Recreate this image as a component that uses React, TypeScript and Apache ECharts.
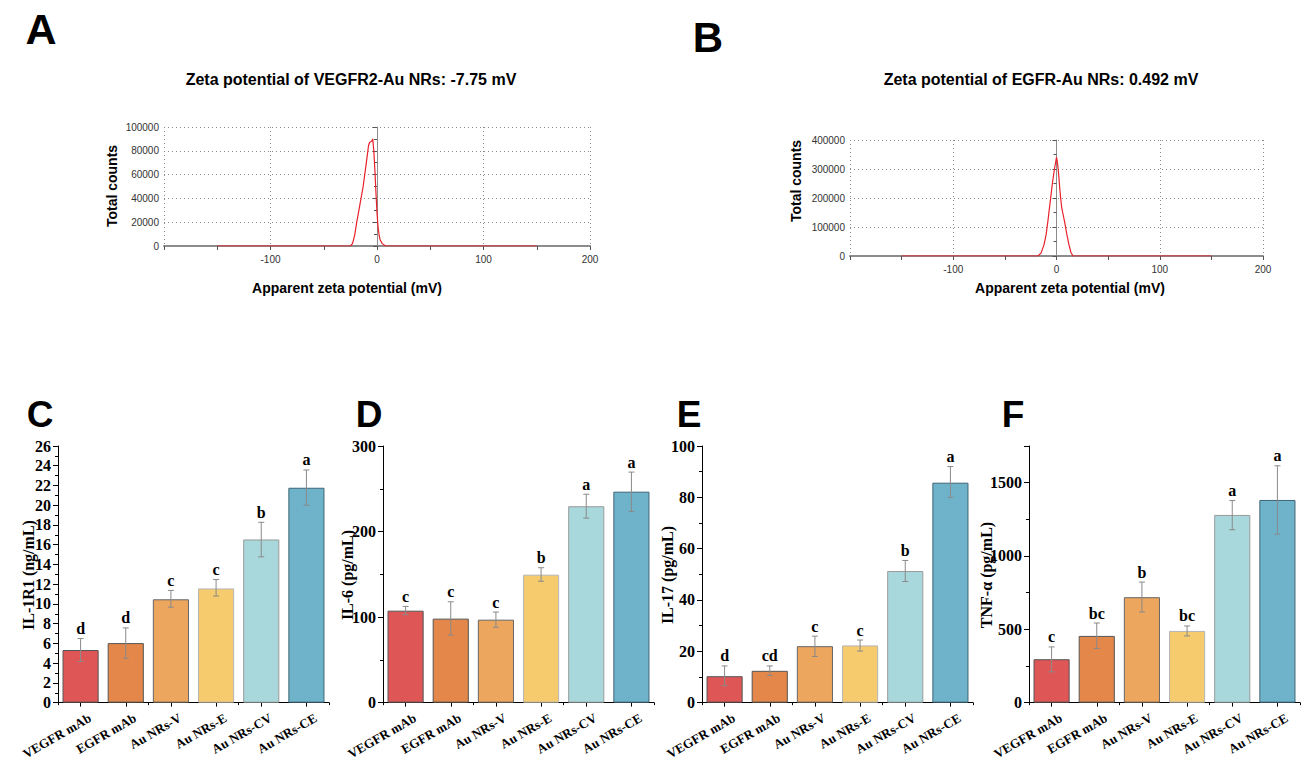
import React, { useEffect, useRef } from 'react';
import * as echarts from 'echarts';

// ---------- data ----------
const categories = ['VEGFR mAb', 'EGFR mAb', 'Au NRs-V', 'Au NRs-E', 'Au NRs-CV', 'Au NRs-CE'];

const il1r1Mean = [5.33, 6.03, 10.47, 11.57, 16.53, 21.77];
const il1r1Low = [4.17, 4.5, 9.67, 10.8, 14.77, 20.0];
const il1r1High = [6.5, 7.57, 11.37, 12.47, 18.27, 23.57];
const il1r1Letters = ['d', 'd', 'c', 'c', 'b', 'a'];

const il6Mean = [107.5, 98.2, 97, 149.6, 229.6, 246.6];
const il6Low = [102.8, 78.9, 88.1, 141.9, 215.7, 223.5];
const il6High = [112.5, 117.9, 105.9, 157.7, 243.6, 269.5];
const il6Letters = ['c', 'c', 'c', 'b', 'a', 'a'];

const il17Mean = [10.3, 12.4, 22.0, 22.3, 51.3, 85.7];
const il17Low = [6.6, 10.6, 18.0, 20.1, 47.2, 80.0];
const il17High = [14.3, 14.3, 25.9, 24.4, 55.4, 92.0];
const il17Letters = ['d', 'cd', 'c', 'c', 'b', 'a'];

const tnfMean = [296, 455, 719, 489, 1280, 1382];
const tnfLow = [210, 369, 618, 455, 1179, 1149];
const tnfHigh = [380, 543, 822, 523, 1378, 1615];
const tnfLetters = ['c', 'bc', 'b', 'bc', 'a', 'a'];

const vegfrZeta: number[][] = [
  [-150, 0], [-25, 0], [-23, 2000], [-21, 9000], [-19, 20000], [-16, 35000], [-13, 50000],
  [-10, 70000], [-8, 84000], [-7, 87000], [-5, 88000], [-4, 90000], [-3, 80000], [-2, 64000],
  [-1, 45000], [0, 28000], [1, 16000], [2, 9000], [3, 5000], [5, 2000], [8, 0], [150, 0],
];
const egfrZeta: number[][] = [
  [-150, 0], [-18, 0], [-15, 10000], [-12, 40000], [-10, 75000], [-8, 130000], [-6, 190000],
  [-4, 250000], [-2, 300000], [0, 340000], [1, 320000], [2, 285000], [3, 240000], [4, 200000],
  [5, 168000], [6, 150000], [8, 115000], [10, 75000], [12, 40000], [14, 12000], [16, 0], [150, 0],
];

const barColors = ['#DF5656', '#E4874A', '#EDA65E', '#F5CB6D', '#A8D8DB', '#6FB3CB'];
const barBorders = ['#555555', '#555555', '#666666', '#B5B5B5', '#9A9A9A', '#3F6675'];

const SERIF = "'Liberation Serif', 'Times New Roman', serif";
const SANS = "'Liberation Sans', Arial, sans-serif";

type Panel = {
  letter: string; name: string; mean: number[]; low: number[]; high: number[]; letters: string[];
  left: number; max: number; interval: number; nameX: number; letterX: number; hideNonMultiple?: boolean;
};

const panels: Panel[] = [
  { letter: 'C', name: 'IL-1R1 (ng/mL)', mean: il1r1Mean, low: il1r1Low, high: il1r1High, letters: il1r1Letters, left: 58, max: 26, interval: 2, nameX: 28, letterX: 40 },
  { letter: 'D', name: 'IL-6 (pg/mL)', mean: il6Mean, low: il6Low, high: il6High, letters: il6Letters, left: 383, max: 300, interval: 100, nameX: 347, letterX: 369 },
  { letter: 'E', name: 'IL-17 (pg/mL)', mean: il17Mean, low: il17Low, high: il17High, letters: il17Letters, left: 702, max: 100, interval: 20, nameX: 667, letterX: 689 },
  { letter: 'F', name: 'TNF-α (pg/mL)', mean: tnfMean, low: tnfLow, high: tnfHigh, letters: tnfLetters, left: 1029, max: 1750, interval: 500, nameX: 986, letterX: 1013, hideNonMultiple: true },
];

function buildOption() {
  const grids: any[] = [
    { left: 164, top: 127, width: 426, height: 119 },
    { left: 850, top: 140, width: 413, height: 116 },
  ];
  const dotted = { color: '#8a8a8a', width: 1, type: [1, 3] };
  const smallLabel = { fontFamily: SANS, fontSize: 10, color: '#333', formatter: (v: number) => String(v) };
  const xAxes: any[] = [];
  const yAxes: any[] = [];
  const series: any[] = [];

  [0, 1].forEach((g) => {
    xAxes.push({
      type: 'value', gridIndex: g, min: -200, max: 200, interval: 100,
      axisLine: { show: true, onZero: false, lineStyle: { color: '#8c8c8c', width: 2 } },
      axisTick: { show: true, length: 4, lineStyle: { color: '#555' } },
      minorTick: { show: true, splitNumber: 2, length: 4, lineStyle: { color: '#555' } },
      axisLabel: { ...smallLabel, showMinLabel: false, margin: 8 },
      splitLine: { show: true, lineStyle: dotted },
    });
    yAxes.push({
      type: 'value', gridIndex: g, min: 0, max: g === 0 ? 100000 : 400000, interval: g === 0 ? 20000 : 100000,
      axisLine: { show: true, lineStyle: { color: '#8c8c8c', width: 1 } },
      axisTick: { show: true, length: 4, lineStyle: { color: '#555' } },
      minorTick: { show: true, splitNumber: 2, length: 3, lineStyle: { color: '#555' } },
      axisLabel: { ...smallLabel, margin: 5 },
      splitLine: { show: true, lineStyle: dotted },
    });
  });
  series.push({
    type: 'line', xAxisIndex: 0, yAxisIndex: 0, data: vegfrZeta, showSymbol: false,
    lineStyle: { color: '#E8202A', width: 1.2 }, z: 5,
  });
  series.push({
    type: 'line', xAxisIndex: 1, yAxisIndex: 1, data: egfrZeta, showSymbol: false,
    lineStyle: { color: '#E8202A', width: 1.2 }, z: 5,
  });

  const graphics: any[] = [
    { type: 'text', x: 41, y: 29, style: { text: 'A', font: `bold 43px ${SANS}`, fill: '#000', align: 'center', verticalAlign: 'middle' } },
    { type: 'text', x: 708, y: 37, style: { text: 'B', font: `bold 42px ${SANS}`, fill: '#000', align: 'center', verticalAlign: 'middle' } },
    { type: 'text', x: 351, y: 79, style: { text: 'Zeta potential of VEGFR2-Au NRs: -7.75 mV', font: `bold 16px ${SANS}`, fill: '#000', align: 'center', verticalAlign: 'middle' } },
    { type: 'text', x: 1041, y: 79, style: { text: 'Zeta potential of EGFR-Au NRs: 0.492 mV', font: `bold 16px ${SANS}`, fill: '#000', align: 'center', verticalAlign: 'middle' } },
    { type: 'text', x: 347, y: 288, style: { text: 'Apparent zeta potential (mV)', font: `bold 14px ${SANS}`, fill: '#000', align: 'center', verticalAlign: 'middle' } },
    { type: 'text', x: 1070, y: 288, style: { text: 'Apparent zeta potential (mV)', font: `bold 14px ${SANS}`, fill: '#000', align: 'center', verticalAlign: 'middle' } },
    { type: 'text', x: 112, y: 186, rotation: Math.PI / 2, style: { text: 'Total counts', font: `bold 14px ${SANS}`, fill: '#000', align: 'center', verticalAlign: 'middle' } },
    { type: 'text', x: 796, y: 181, rotation: Math.PI / 2, style: { text: 'Total counts', font: `bold 14px ${SANS}`, fill: '#000', align: 'center', verticalAlign: 'middle' } },
  ];

  panels.forEach((p, k) => {
    const g = 2 + k;
    grids.push({ left: p.left, top: 446, width: 271, height: 260 });
    const mainX = xAxes.length;
    xAxes.push({
      type: 'category', gridIndex: g, data: categories, boundaryGap: true,
      axisLine: { show: true, lineStyle: { color: '#000', width: 1 } },
      axisTick: { show: true, alignWithLabel: true, length: 4, lineStyle: { color: '#000' } },
      axisLabel: {
        interval: 0, rotate: 30, margin: 12, align: 'right', verticalAlign: 'top', padding: [0, -7, 0, 0],
        fontFamily: SERIF, fontWeight: 'bold', fontSize: 13, color: '#000',
      },
      splitLine: { show: false },
    });
    xAxes.push({
      type: 'category', gridIndex: g, data: categories, boundaryGap: true, position: 'bottom',
      axisLine: { show: false },
      axisTick: { show: true, alignWithLabel: false, length: 2.5, lineStyle: { color: '#000' } },
      axisLabel: { show: false },
      splitLine: { show: false },
    });
    const yIdx = yAxes.length;
    yAxes.push({
      type: 'value', gridIndex: g, min: 0, max: p.max, interval: p.interval,
      axisLine: { show: true, lineStyle: { color: '#000', width: 1 } },
      axisTick: { show: true, length: 5, lineStyle: { color: '#000' } },
      minorTick: { show: true, splitNumber: 2, length: 3, lineStyle: { color: '#000' } },
      axisLabel: {
        margin: 7, fontFamily: SERIF, fontWeight: 'bold', fontSize: 16, color: '#000',
        formatter: p.hideNonMultiple ? (v: number) => (v % 500 === 0 ? String(v) : '') : (v: number) => String(v),
      },
      splitLine: { show: false },
    });
    series.push({
      type: 'bar', xAxisIndex: mainX, yAxisIndex: yIdx, barWidth: '80%',
      data: p.mean.map((v, i) => ({
        value: v,
        itemStyle: { color: barColors[i], borderColor: barBorders[i], borderWidth: 1 },
      })),
      z: 2,
    });
    const letters = p.letters;
    series.push({
      type: 'custom', xAxisIndex: mainX, yAxisIndex: yIdx, z: 4,
      encode: { x: 0, y: [1, 2] },
      data: p.low.map((lo, i) => [i, lo, p.high[i]]),
      renderItem: (params: any, api: any) => {
        const i = api.value(0);
        const pLo = api.coord([i, api.value(1)]);
        const pHi = api.coord([i, api.value(2)]);
        const x = pLo[0];
        const cap = 3;
        const style = { stroke: '#8a8a8a', lineWidth: 1 };
        return {
          type: 'group',
          children: [
            { type: 'line', shape: { x1: x, y1: pLo[1], x2: x, y2: pHi[1] }, style },
            { type: 'line', shape: { x1: x - cap, y1: pHi[1], x2: x + cap, y2: pHi[1] }, style },
            { type: 'line', shape: { x1: x - cap, y1: pLo[1], x2: x + cap, y2: pLo[1] }, style },
            {
              type: 'text', x, y: pHi[1] - 2,
              style: { text: letters[params.dataIndex], font: `bold 16px ${SERIF}`, fill: '#000', align: 'center', verticalAlign: 'bottom' },
            },
          ],
        };
      },
    });
    graphics.push({ type: 'text', x: p.letterX, y: 414, style: { text: p.letter, font: `bold 37px ${SANS}`, fill: '#000', align: 'center', verticalAlign: 'middle' } });
    graphics.push({ type: 'text', x: p.nameX, y: 575, rotation: Math.PI / 2, style: { text: p.name, font: `bold 16px ${SERIF}`, fill: '#000', align: 'center', verticalAlign: 'middle' } });
  });

  return {
    animation: false,
    backgroundColor: '#ffffff',
    grid: grids,
    xAxis: xAxes,
    yAxis: yAxes,
    series,
    graphic: graphics,
  };
}

export default function App() {
  const ref = useRef<HTMLDivElement>(null);
  useEffect(() => {
    if (!ref.current) return;
    const chart = echarts.init(ref.current, undefined, { renderer: 'svg' });
    chart.setOption(buildOption() as any);
    return () => chart.dispose();
  }, []);
  return (
    <div
      ref={ref}
      style={{ position: 'fixed', left: 0, top: 0, width: 1301, height: 762, background: '#fff' }}
    />
  );
}
